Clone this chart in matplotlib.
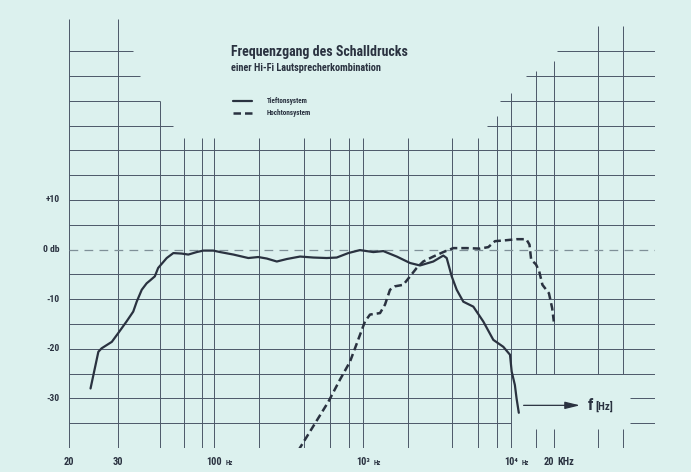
import numpy as np
import matplotlib.pyplot as plt
from matplotlib import font_manager

# Frequenzgang (dB)
tief_hz = [23.9, 25.5, 26.2, 28.5, 30.0, 31.8, 33.3, 34.1, 35.3, 36.5,
           37.4, 38.6, 39.5, 44.8, 50.1, 57.7, 64.3, 73.5, 82.0, 98.7,
           110, 135, 170, 198, 226, 264, 308, 378, 464, 571,
           666, 797, 954, 1174, 1372, 1690, 2078, 2427, 2985, 3488,
           3677, 3976, 4297, 4761, 5564, 6499, 7594, 8871, 9845, 10110,
           10640, 10930, 11330]
tief_db = [-28.0, -20.6, -19.9, -18.6, -16.9, -14.5, -12.5, -10.5, -8.1, -6.8,
           -6.2, -5.4, -3.7, -1.7, -0.7, -0.8, -1.0, -0.5, -0.2, -0.2,
           -0.5, -1.0, -1.7, -1.5, -1.8, -2.4, -1.9, -1.4, -1.6, -1.7,
           -1.6, -0.7, -0.1, -0.5, -0.3, -1.4, -2.7, -3.2, -2.4, -1.2,
           -1.7, -5.4, -8.1, -10.5, -11.5, -14.5, -18.2, -19.6, -21.2, -24.6,
           -27.3, -30.0, -32.9]

hoch_hz = [368, 585, 701, 818, 1031, 1115, 1303, 1408, 1522, 1645,
           1872, 2078, 2306, 2555, 2985, 3488, 4075, 5019, 6173, 7024,
           7797, 9352, 10930, 12770, 13440, 13800, 14920, 15700, 16530, 18340,
           19310, 19830]
hoch_db = [-40.5, -30.7, -26.2, -22.6, -14.5, -13.1, -12.8, -11.1, -8.1, -7.4,
           -7.1, -5.4, -3.7, -2.4, -1.4, -0.5, 0.3, 0.3, 0.2, 0.5,
           1.7, 1.9, 2.1, 2.1, 1.0, -2.0, -3.0, -4.4, -7.1, -8.8,
           -11.8, -14.5]

series_labels = ['Tieftonsystem', 'Hochtonsystem']

ytick_db = [10, 0, -10, -20, -30]
ytick_labels = ['+10', '0 db', '-10', '-20', '-30']

xtick_hz = [20, 30, 100, 1000, 10000, 20000]
xtick_num = ['20', '30', '100', '10³', '10⁴', '20']
xtick_unit = ['', '', 'Hz', 'Hz', 'Hz', 'KHz']

# the printed paper's frequency scale: logarithmic, but stretched below 40 Hz
scale_hz = [1, 20, 30, 40, 60, 80, 100, 1000, 10000, 100000, 1e7]
scale_pos = [-293, 69, 118, 160, 184, 202, 214, 363, 511, 655, 943]
log_hz = np.log10(scale_hz)


def hz_to_pos(f):
    f = np.clip(np.asarray(f, dtype=float), 1e-6, None)
    return np.interp(np.log10(f), log_hz, scale_pos)


def pos_to_hz(p):
    return 10 ** np.interp(p, scale_pos, log_hz)


# grid of the chart paper (stepped at the top)
vgrid_hz = [20, 30, 40, 60, 80, 100, 200, 400, 600, 800, 1000,
            2000, 4000, 6000, 8000, 10000, 15000, 20000, 40000, 60000, 100000]
vgrid_top = [46.5, 46.5, 30, 22.5, 22.5, 22.5, 22.5, 22.5, 22.5, 22.5, 22.5,
             22.5, 22.5, 22.5, 27, 31.5, 36, 38, 45, 45, 45]
vgrid_cut = [15000, 20000, 40000, 60000]   # interrupted around the f-arrow
hgrid_full = [20, 15, 10, 5, -5, -10, -15, -20, -25, -40]
hgrid_step = [40, 35, 30, 25]
hgrid_left_end = [33.2, 34.9, 40, 50]
hgrid_right_start = [21000, 12700, 8400, 6900]
hgrid_cut = [-30, -35]

BG = '#dcf1ee'
INK = '#2a3240'
GRID = '#4c5868'

# narrow lettering like the print
names = {f.name for f in font_manager.fontManager.ttflist}
FAM = ['DejaVu Sans']
for cand in ['Roboto Condensed', 'Liberation Sans Narrow', 'Open Sans Condensed']:
    if cand in names:
        FAM = [cand, 'DejaVu Sans']
        break
TXT = dict(family=FAM, fontweight='bold', color=INK)

fig = plt.figure(figsize=(6.91, 4.72), dpi=100)
fig.patch.set_facecolor(BG)
ax = fig.add_axes([69 / 691, 24 / 472, 586 / 691, 433 / 472])
ax.patch.set_visible(False)
ax.set_xscale('function', functions=(hz_to_pos, pos_to_hz))
ax.set_xlim(20, 100000)
ax.set_ylim(-40, -40 + 433 / 4.96)
for s in ax.spines.values():
    s.set_visible(False)
ax.set_xticks([])
ax.set_yticks([])

gkw = dict(color=GRID, lw=0.7, zorder=1)
for f, top in zip(vgrid_hz, vgrid_top):
    if f in vgrid_cut:
        ax.vlines(f, -25, top, **gkw)
        ax.vlines(f, -40, -36.2, **gkw)
    else:
        ax.vlines(f, -40, top, **gkw)
for y in hgrid_full:
    ax.hlines(y, 20, 100000, **gkw)
for y, le, rs in zip(hgrid_step, hgrid_left_end, hgrid_right_start):
    ax.hlines(y, 20, le, **gkw)
    ax.hlines(y, rs, 100000, **gkw)
for y in hgrid_cut:
    ax.hlines(y, 20, 10000, **gkw)
    ax.hlines(y, 67000, 100000, **gkw)
ax.hlines(0, 20, 100000, color='#7f9098', lw=0.9, linestyle=(0, (7, 5)), zorder=1)

l1, = ax.plot(tief_hz, tief_db, color=INK, lw=1.6, solid_capstyle='round',
              zorder=3, label=series_labels[0])
l2, = ax.plot(hoch_hz, hoch_db, color=INK, lw=1.8, linestyle=(0, (3, 1.6)),
              zorder=3, label=series_labels[1])

# f [Hz] arrow
ax.annotate('', xy=(31500, -31.4), xytext=(11700, -31.4),
            arrowprops=dict(arrowstyle='-|>,head_length=0.9,head_width=0.22',
                            color=INK, lw=0.9))
ax.text(34000, -31.4, 'f', fontsize=12, ha='left', va='center', **TXT)
ax.text(38500, -31.6, '[Hz]', fontsize=8, ha='left', va='center', **TXT)

# axis labels
ytr = ax.get_yaxis_transform()
for y, lab in zip(ytick_db, ytick_labels):
    ax.text(-0.016, y, lab, transform=ytr, ha='right', va='center',
            fontsize=6.8, **TXT)
xtr = ax.get_xaxis_transform()
for f, num, unit in zip(xtick_hz, xtick_num, xtick_unit):
    big_unit = unit == 'KHz'
    t = ax.text(f, -0.032, num, transform=xtr, va='center',
                ha='right' if big_unit else 'center', fontsize=7.5, **TXT)
    if unit:
        ax.annotate(unit, xy=(1, 0), xycoords=t, xytext=(2.5, 0),
                    textcoords='offset points', ha='left', va='bottom',
                    fontsize=7.5 if big_unit else 5, **TXT)

fig.text(231 / 691, 1 - 52 / 472, 'Frequenzgang des Schalldrucks',
         fontsize=10, va='center', **TXT)
fig.text(231 / 691, 1 - 68 / 472, 'einer Hi-Fi Lautsprecherkombination',
         fontsize=7.4, va='center', **TXT)

fig.legend(handles=[l1, l2], loc='upper left',
           bbox_to_anchor=(229 / 691, 1 - 93.5 / 472), frameon=False,
           borderpad=0, handlelength=2.8, handletextpad=2.0, labelspacing=0.6,
           prop=dict(size=5.1, weight='bold', family=FAM), labelcolor=INK)

fig.savefig('out.png', dpi=100, facecolor=BG)
